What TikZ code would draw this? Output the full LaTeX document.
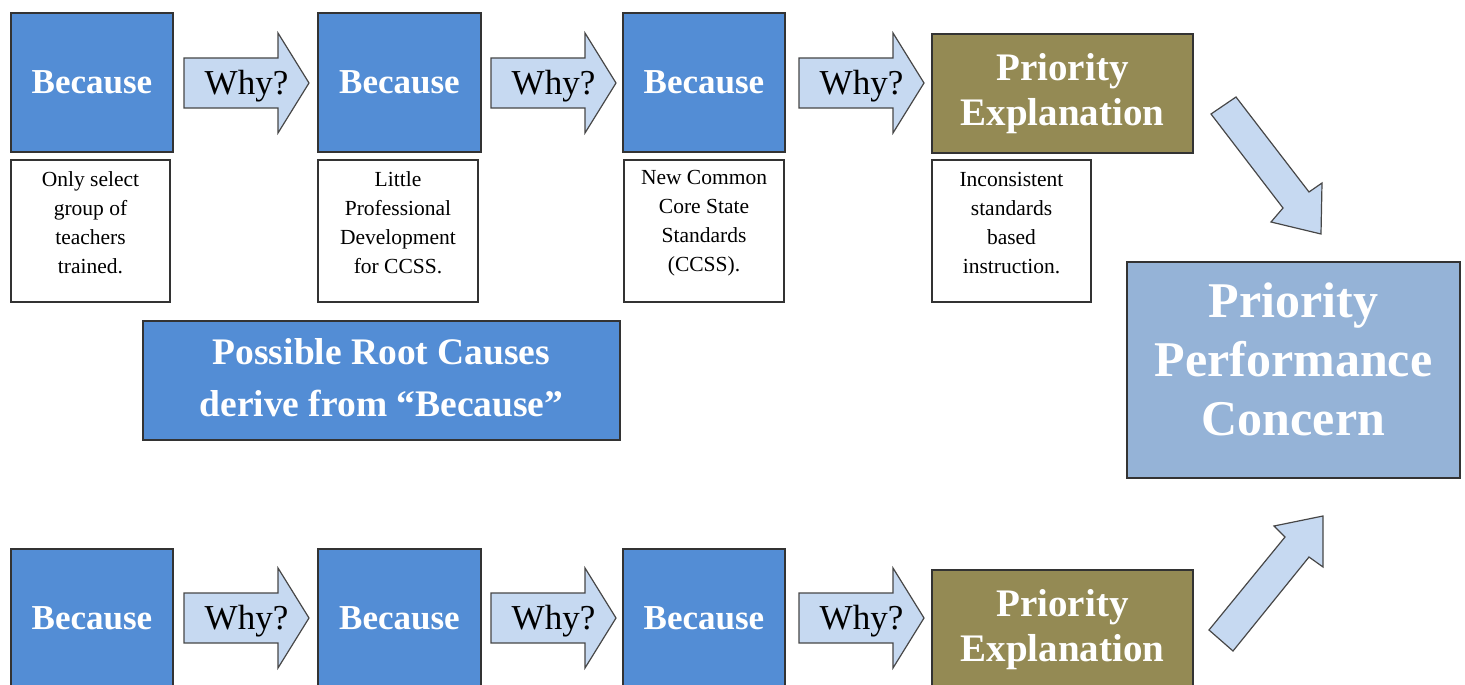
\documentclass[tikz,border=0pt]{standalone}
\usepackage{fontspec}
\setmainfont{Liberation Serif}
\definecolor{bblue}{HTML}{538DD5}
\definecolor{olive}{HTML}{948A54}
\definecolor{pblue}{HTML}{95B3D7}
\definecolor{afill}{HTML}{C6D9F1}
\definecolor{edge}{HTML}{333333}
\newcommand{\whyarrow}[3]{%
  \draw[warrow] (#2,#3) -- ++(94,0) -- ++(0,-25) -- ++(31,50) -- ++(-31,50) -- ++(0,-25) -- ++(-94,0) -- cycle;
  \node[whytext] (#1) at (#2+62.5,#3+28) {Why?};}
\tikzset{
  boxbase/.style={draw=edge, line width=1.3pt, inner sep=0pt, outer sep=0pt},
  because/.style={boxbase, fill=bblue, text=white, minimum height=139pt,
    font=\fontsize{35}{40}\selectfont\bfseries},
  prio/.style={boxbase, fill=olive, text=white, minimum width=261pt, minimum height=119pt,
    align=center, font=\fontsize{39}{45}\selectfont\bfseries},
  txtbox/.style={boxbase, fill=white, minimum height=142pt},
  smalltext/.style={inner sep=0pt, align=center, font=\fontsize{21.5}{29}\selectfont},
  warrow/.style={draw=edge!90, line width=1.2pt, fill=afill, line join=miter},
  whytext/.style={inner sep=0pt, font=\fontsize{35}{40}\selectfont},
}
\begin{document}
\begin{tikzpicture}[x=1pt, y=-1pt]
\useasboundingbox (0,0) rectangle (1465,685);
% ---- top row
\node[because, minimum width=162pt] (b1) at (92,82.5) {Because};
\node[because, minimum width=163pt] (b2) at (399.5,82.5) {Because};
\node[because, minimum width=162pt] (b3) at (704,82.5) {Because};
\node[prio] (p1) at (1062.5,93.5) {Priority\\Explanation};
\whyarrow{w1}{184}{58}
\whyarrow{w2}{491}{58}
\whyarrow{w3}{799}{58}
% ---- text boxes
\node[txtbox, minimum width=159pt] (t1) at (90.5,231) {};
\node[txtbox, minimum width=160pt] (t2) at (398,231) {};
\node[txtbox, minimum width=160pt] (t3) at (704,231) {};
\node[txtbox, minimum width=159pt] (t4) at (1011.5,231) {};
\node[smalltext] (t1text) at (90.5,223) {Only select\\group of\\teachers\\trained.};
\node[smalltext] (t2text) at (398,223) {Little\\Professional\\Development\\for CCSS.};
\node[smalltext] (t3text) at (704,223) {New Common\\Core State\\Standards\\(CCSS).};
\node[smalltext] (t4text) at (1011.5,223) {Inconsistent\\standards\\based\\instruction.};
% ---- root causes
\node[boxbase, fill=bblue, text=white, minimum width=477pt, minimum height=119pt,
  align=center, font=\fontsize{37.5}{52}\selectfont\bfseries] (root) at (381.5,380.5) {};
\node[inner sep=0pt, text=white, align=center, font=\fontsize{37.5}{52}\selectfont\bfseries]
  (roottext) at (381.5,377.5) {Possible Root Causes\\derive from “Because”};
% ---- priority performance concern
\node[boxbase, fill=pblue, minimum width=333pt, minimum height=216pt] (ppc) at (1293.5,370) {};
\node[inner sep=0pt, text=white, align=center, font=\fontsize{50}{59}\selectfont\bfseries]
  (ppctext) at (1293.5,359) {Priority\\Performance\\Concern};
% ---- bottom row
\node[because, minimum width=162pt] (b4) at (92,618.5) {Because};
\node[because, minimum width=163pt] (b5) at (399.5,618.5) {Because};
\node[because, minimum width=162pt] (b6) at (704,618.5) {Because};
\node[prio] (p2) at (1062.5,629.5) {Priority\\Explanation};
\whyarrow{w4}{184}{593}
\whyarrow{w5}{491}{593}
\whyarrow{w6}{799}{593}
% ---- diagonal block arrows
\draw[warrow] (1236,97) -- (1211,114) -- (1283,208) -- (1271,222) -- (1321,234)
  -- (1322,183) -- (1309,192) -- cycle;
\draw[warrow] (1209,630) -- (1233,651) -- (1309,557) -- (1323,567) -- (1323,516)
  -- (1274,526) -- (1285,537) -- cycle;
\end{tikzpicture}
\end{document}
